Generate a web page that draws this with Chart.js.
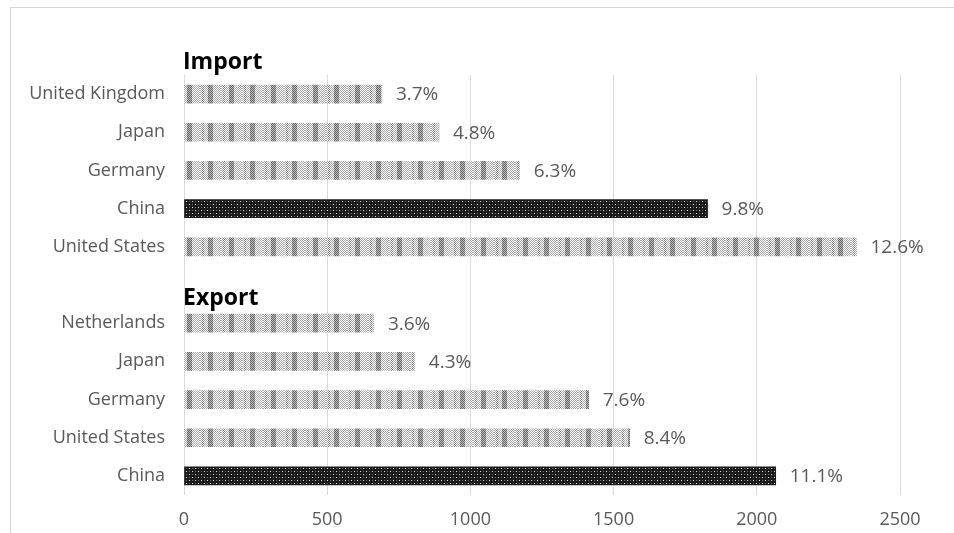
<!DOCTYPE html>
<html>
<head>
<meta charset="utf-8">
<script src="https://cdn.jsdelivr.net/npm/chart.js@4/dist/chart.umd.min.js"></script>
<style>
  html, body { margin: 0; padding: 0; background: #fff; }
  body { width: 954px; height: 533px; position: relative; overflow: hidden; }
  #frame {
    position: absolute; left: 10px; top: 7px; width: 944px; height: 526px;
    border-left: 1px solid #d4d4d4; border-top: 1px solid #d4d4d4;
  }
  #wrap { position: absolute; left: 0; top: 0; width: 943px; height: 525px; }
</style>
</head>
<body>
<div id="frame"><div id="wrap"><canvas id="tradeChart"></canvas></div></div>
<script>
  const categories = [
    "United Kingdom", "Japan", "Germany", "China", "United States",
    "",
    "Netherlands", "Japan", "Germany", "United States", "China",
  ];
  const tradeValues = [691, 890, 1172, 1828, 2348, null, 663, 806, 1413, 1556, 2066];
  const shareLabels = ["3.7%", "4.8%", "6.3%", "9.8%", "12.6%", "", "3.6%", "4.3%", "7.6%", "8.4%", "11.1%"];
  const groupTitles = ["Import", "Export"];
  const xTicks = [0, 500, 1000, 1500, 2000, 2500];

  const fontFamily = "'Open Sans', sans-serif";

  // stipple textures like the printed excel chart
  function lightPattern(ctx) {
    const c = document.createElement("canvas");
    c.width = 21; c.height = 4;
    const p = c.getContext("2d");
    p.fillStyle = "#ffffff";
    p.fillRect(0, 0, 21, 4);
    for (let x = 0; x < 21; x++) {
      for (let y = 0; y < 4; y++) {
        const on = (x + y) % 2 === 0;
        let col = null;
        if (x >= 8 && x <= 12) col = on ? "#5e5e5e" : "#c4c4c4";
        else if (x === 2 || x === 3) col = on ? "#7a7a7a" : null;
        else if (on) col = "#a6a6a6";
        if (col) {
          p.fillStyle = col;
          p.fillRect(x, y, 1, 1);
        }
      }
    }
    return ctx.createPattern(c, "repeat");
  }

  function darkPattern(ctx) {
    const c = document.createElement("canvas");
    c.width = 6; c.height = 6;
    const p = c.getContext("2d");
    p.fillStyle = "#1a1a1a";
    p.fillRect(0, 0, 6, 6);
    p.fillStyle = "#e0e0e0";
    p.fillRect(1, 1, 1, 1);
    p.fillRect(4, 4, 1, 1);
    p.fillStyle = "#6a6a6a";
    p.fillRect(4, 1, 1, 1);
    p.fillRect(1, 4, 1, 1);
    return ctx.createPattern(c, "repeat");
  }

  const ctx = document.getElementById("tradeChart").getContext("2d");
  const lightFill = lightPattern(ctx);
  const darkFill = darkPattern(ctx);
  const barFills = categories.map((c) => (c === "China" ? darkFill : lightFill));

  const valueLabels = {
    id: "valueLabels",
    afterDatasetsDraw(chart) {
      const c = chart.ctx;
      const meta = chart.getDatasetMeta(0);
      c.save();
      c.font = "19px " + fontFamily;
      c.fillStyle = "#595959";
      c.textAlign = "left";
      c.textBaseline = "middle";
      meta.data.forEach((bar, i) => {
        if (tradeValues[i] == null) return;
        c.fillText(shareLabels[i], bar.x + 14, bar.y + 1);
      });
      // group headings
      const y = chart.scales.y;
      const left = chart.chartArea.left - 1;
      c.font = "bold 23px " + fontFamily;
      c.fillStyle = "#000000";
      c.fillText(groupTitles[0], left, chart.chartArea.top - 13);
      c.fillText(groupTitles[1], left, y.getPixelForValue(5) + 13);
      c.restore();
    },
  };

  new Chart(ctx, {
    type: "bar",
    data: {
      labels: categories,
      datasets: [
        {
          label: "Trade",
          data: tradeValues,
          backgroundColor: barFills,
          borderWidth: 0,
          barThickness: 18,
        },
      ],
    },
    options: {
      indexAxis: "y",
      responsive: true,
      maintainAspectRatio: false,
      animation: false,
      layout: {
        padding: { top: 67, right: 54, left: 0, bottom: 0 },
      },
      plugins: {
        legend: { display: false },
        tooltip: { enabled: false },
      },
      scales: {
        x: {
          min: 0,
          max: 2500,
          afterBuildTicks: (scale) => {
            scale.ticks = xTicks.map((v) => ({ value: v }));
          },
          afterFit: (scale) => {
            scale.height = 38;
          },
          grid: {
            color: "#d9d9d9",
            drawTicks: false,
          },
          border: { display: false },
          ticks: {
            padding: 14,
            color: "#595959",
            font: { size: 18, family: fontFamily },
            callback: (v) => String(v),
          },
        },
        y: {
          afterFit: (scale) => {
            scale.width = 173;
          },
          grid: { display: false, drawTicks: false },
          border: { display: false },
          ticks: {
            padding: 19,
            autoSkip: false,
            color: "#595959",
            font: { size: 18, family: fontFamily },
          },
        },
      },
    },
    plugins: [valueLabels],
  });
</script>
</body>
</html>
